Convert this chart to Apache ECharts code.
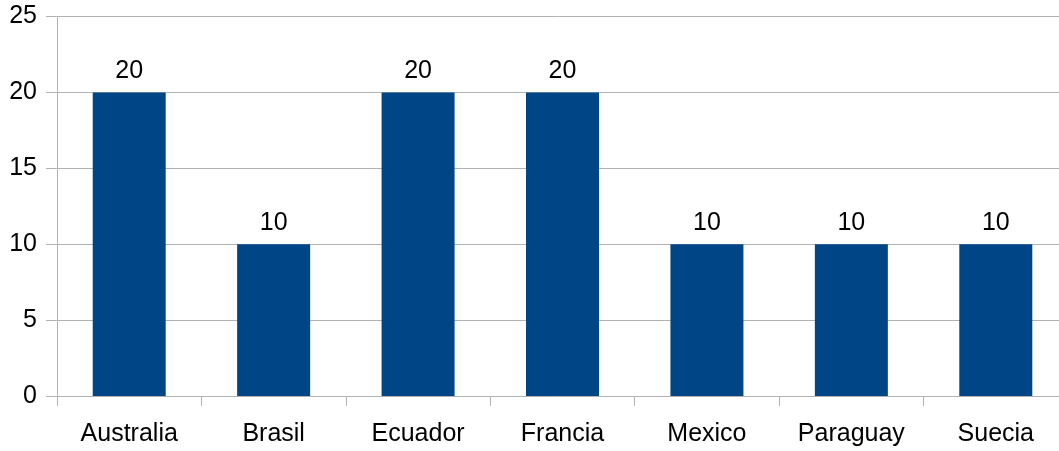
<!DOCTYPE html>
<html>
<head>
<meta charset="utf-8">
<script src="https://cdn.jsdelivr.net/npm/echarts@6/dist/echarts.min.js"></script>
<style>
html,body{margin:0;padding:0;background:#fff;}
#c{width:1059px;height:451px;}
</style>
</head>
<body>
<div id="c"></div>
<script>
const categories = ["Australia","Brasil","Ecuador","Francia","Mexico","Paraguay","Suecia"];
const values = [20,10,20,20,10,10,10];

const chart = echarts.init(document.getElementById('c'), null, {renderer:'canvas'});
const font = '"Liberation Sans", Arial, sans-serif';
chart.setOption({
  animation:false,
  backgroundColor:'#ffffff',
  grid:{left:57, width:1011, top:16.5, bottom:55, containLabel:false, outerBoundsMode:'none'},
  xAxis:{
    type:'category',
    data:categories,
    boundaryGap:true,
    axisLine:{show:true, lineStyle:{color:'#b3b3b3', width:1}},
    axisTick:{show:true, length:10, lineStyle:{color:'#b3b3b3'}},
    axisLabel:{color:'#000', fontSize:25, fontFamily:font, margin:26, interval:0}
  },
  yAxis:{
    type:'value',
    min:0, max:25, interval:5,
    axisLine:{show:true, lineStyle:{color:'#b3b3b3', width:1}},
    axisTick:{show:true, length:11, lineStyle:{color:'#b3b3b3'}},
    splitLine:{show:true, lineStyle:{color:'#b3b3b3', width:1}},
    axisLabel:{color:'#000', fontSize:25, fontFamily:font, margin:20}
  },
  series:[{
    type:'bar',
    data:values,
    barWidth:73,
    itemStyle:{color:'#004586'},
    label:{show:true, position:'top', distance:9, color:'#000', fontSize:25, fontFamily:font}
  }]
});
</script>
</body>
</html>
